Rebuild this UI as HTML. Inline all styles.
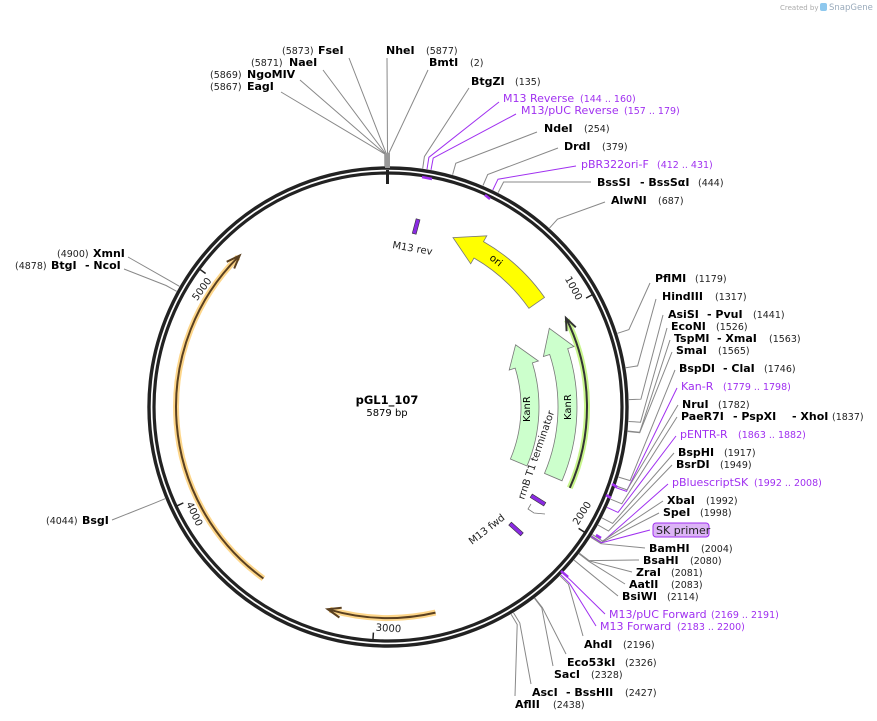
<!DOCTYPE html>
<html><head><meta charset="utf-8">
<style>
html,body{margin:0;padding:0;background:#fff;}
svg{display:block;font-family:"DejaVu Sans","Liberation Sans",sans-serif;}
.e{font-weight:bold;font-size:11px;fill:#000;}
.n{font-size:9.5px;fill:#222;}
.p{font-size:11px;fill:#a030f0;}
.pn{font-size:9.5px;fill:#a030f0;}
</style></head><body>
<svg id="s" width="877" height="721" viewBox="0 0 877 721" xmlns="http://www.w3.org/2000/svg">
<rect width="877" height="721" fill="#fff"/>
<text x="780" y="10" font-size="7" fill="#aaa">Created by</text>
<rect x="820" y="3" width="7" height="8" rx="2" fill="#8ec8ee"/>
<text x="829" y="10" font-size="8.5" fill="#9ab">SnapGene</text>
<g id="lines" fill="none" stroke-width="1"></g>

<!-- ring -->
<circle cx="388" cy="407" r="239" fill="none" stroke="#222" stroke-width="3.4"/>
<circle cx="388" cy="407" r="234" fill="none" stroke="#222" stroke-width="3.2"/>
<line x1="387.5" y1="170" x2="387.5" y2="184" stroke="#222" stroke-width="3"/>
<rect x="385" y="153" width="5" height="15" fill="#999"/>

<!-- ticks -->
<g font-size="10" fill="#222">
<g transform="rotate(61.2 388 407)"><line x1="388" y1="173" x2="388" y2="181" stroke="#222" stroke-width="1.5"/><text x="386" y="184" text-anchor="end" dominant-baseline="hanging">1000</text></g>
<g transform="rotate(-57.5 388 407)"><line x1="388" y1="641" x2="388" y2="633" stroke="#222" stroke-width="1.5"/><text x="390" y="631" text-anchor="start">2000</text></g>
<g transform="rotate(3.7 388 407)"><line x1="388" y1="641" x2="388" y2="633" stroke="#222" stroke-width="1.5"/><text x="390" y="631" text-anchor="start">3000</text></g>
<g transform="rotate(64.9 388 407)"><line x1="388" y1="641" x2="388" y2="633" stroke="#222" stroke-width="1.5"/><text x="390" y="631" text-anchor="start">4000</text></g>
<g transform="rotate(306.2 388 407)"><line x1="388" y1="173" x2="388" y2="181" stroke="#222" stroke-width="1.5"/><text x="386" y="184" text-anchor="end" dominant-baseline="hanging">5000</text></g>
</g>

<!-- features -->
<g id="feat"></g>

<!-- small primer marks -->
<g stroke="#a030f0" stroke-width="2.5" fill="none">
<line x1="422" y1="177" x2="432" y2="179"/>
<line x1="485" y1="195" x2="490" y2="199"/>
<line x1="612" y1="484" x2="617" y2="487"/>
<line x1="606" y1="495" x2="611" y2="498"/>
<line x1="596" y1="535" x2="601" y2="538"/>
<line x1="561" y1="571" x2="568" y2="577"/>
</g>

<!-- small features -->
<g transform="rotate(15 416 227)"><rect x="414" y="219" width="4" height="15" fill="#8a2be2" stroke="#333" stroke-width="0.6"/></g>
<text x="392" y="248" font-size="10" fill="#222" transform="rotate(10 392 248)">M13 rev</text>
<g transform="rotate(-48 516 529)"><rect x="514" y="521" width="4" height="16" fill="#8a2be2" stroke="#333" stroke-width="0.6"/></g>
<text x="472" y="545" font-size="10" fill="#222" transform="rotate(-38 472 545)">M13 fwd</text>
<g transform="rotate(-58 538 500)"><rect x="536" y="492" width="4" height="16" fill="#8a2be2" stroke="#333" stroke-width="0.6"/></g>
<path d="M531 504 L528 509 L534 513 L545 514" fill="none" stroke="#777" stroke-width="0.8"/>
<text x="524" y="500" font-size="10" fill="#222" transform="rotate(-71 524 500)">rrnB T1 terminator</text>

<!-- center -->
<text x="387" y="404" text-anchor="middle" font-size="11.5" font-weight="bold">pGL1_107</text>
<text x="387" y="416" text-anchor="middle" font-size="10">5879 bp</text>

<!-- top labels -->
<text class="n" x="282" y="54">(5873)</text><text class="e" x="318" y="54">FseI</text>
<text class="n" x="251" y="66">(5871)</text><text class="e" x="289" y="66">NaeI</text>
<text class="n" x="210" y="78">(5869)</text><text class="e" x="247" y="78">NgoMIV</text>
<text class="n" x="210" y="90">(5867)</text><text class="e" x="247" y="90">EagI</text>
<text class="e" x="386" y="54">NheI</text><text class="n" x="426" y="54">(5877)</text>
<text class="e" x="429" y="66">BmtI</text><text class="n" x="470" y="66">(2)</text>
<text class="e" x="471" y="85">BtgZI</text><text class="n" x="515" y="85">(135)</text>
<text class="p" x="503" y="102">M13 Reverse</text><text class="pn" x="580" y="102">(144 .. 160)</text>
<text class="p" x="521" y="114">M13/pUC Reverse</text><text class="pn" x="624" y="114">(157 .. 179)</text>
<text class="e" x="544" y="132">NdeI</text><text class="n" x="584" y="132">(254)</text>
<text class="e" x="564" y="150">DrdI</text><text class="n" x="602" y="150">(379)</text>
<text class="p" x="581" y="168">pBR322ori-F</text><text class="pn" x="657" y="168">(412 .. 431)</text>
<text class="e" x="597" y="186">BssSI</text><text class="e" x="640" y="186">- BssSαI</text><text class="n" x="698" y="186">(444)</text>
<text class="e" x="611" y="204">AlwNI</text><text class="n" x="658" y="204">(687)</text>
<!-- right labels -->
<text class="e" x="655" y="282">PflMI</text><text class="n" x="695" y="282">(1179)</text>
<text class="e" x="662" y="300">HindIII</text><text class="n" x="715" y="300">(1317)</text>
<text class="e" x="668" y="318">AsiSI</text><text class="e" x="707" y="318">- PvuI</text><text class="n" x="753" y="318">(1441)</text>
<text class="e" x="671" y="330">EcoNI</text><text class="n" x="716" y="330">(1526)</text>
<text class="e" x="674" y="342">TspMI</text><text class="e" x="717" y="342">- XmaI</text><text class="n" x="769" y="342">(1563)</text>
<text class="e" x="676" y="354">SmaI</text><text class="n" x="718" y="354">(1565)</text>
<text class="e" x="679" y="372">BspDI</text><text class="e" x="723" y="372">- ClaI</text><text class="n" x="764" y="372">(1746)</text>
<text class="p" x="681" y="390">Kan-R</text><text class="pn" x="723" y="390">(1779 .. 1798)</text>
<text class="e" x="682" y="408">NruI</text><text class="n" x="718" y="408">(1782)</text>
<text class="e" x="681" y="420">PaeR7I</text><text class="e" x="733" y="420">- PspXI</text><text class="e" x="792" y="420">- XhoI</text><text class="n" x="832" y="420">(1837)</text>
<text class="p" x="680" y="438">pENTR-R</text><text class="pn" x="738" y="438">(1863 .. 1882)</text>
<text class="e" x="678" y="456">BspHI</text><text class="n" x="724" y="456">(1917)</text>
<text class="e" x="676" y="468">BsrDI</text><text class="n" x="720" y="468">(1949)</text>
<text class="p" x="672" y="486">pBluescriptSK</text><text class="pn" x="754" y="486">(1992 .. 2008)</text>
<text class="e" x="667" y="504">XbaI</text><text class="n" x="706" y="504">(1992)</text>
<text class="e" x="663" y="516">SpeI</text><text class="n" x="700" y="516">(1998)</text>
<rect x="653" y="523" width="56" height="14" rx="3" fill="#dcb4f6" stroke="#a030f0" stroke-width="1"/>
<text x="656" y="534" font-size="11" fill="#222">SK primer</text>
<text class="e" x="649" y="552">BamHI</text><text class="n" x="701" y="552">(2004)</text>
<text class="e" x="643" y="564">BsaHI</text><text class="n" x="690" y="564">(2080)</text>
<text class="e" x="636" y="576">ZraI</text><text class="n" x="671" y="576">(2081)</text>
<text class="e" x="629" y="588">AatII</text><text class="n" x="671" y="588">(2083)</text>
<text class="e" x="622" y="600">BsiWI</text><text class="n" x="667" y="600">(2114)</text>
<text class="p" x="609" y="618">M13/pUC Forward</text><text class="pn" x="711" y="618">(2169 .. 2191)</text>
<text class="p" x="600" y="630">M13 Forward</text><text class="pn" x="677" y="630">(2183 .. 2200)</text>
<text class="e" x="584" y="648">AhdI</text><text class="n" x="623" y="648">(2196)</text>
<text class="e" x="567" y="666">Eco53kI</text><text class="n" x="625" y="666">(2326)</text>
<text class="e" x="554" y="678">SacI</text><text class="n" x="591" y="678">(2328)</text>
<text class="e" x="532" y="696">AscI</text><text class="e" x="566" y="696">- BssHII</text><text class="n" x="625" y="696">(2427)</text>
<text class="e" x="515" y="708">AflII</text><text class="n" x="553" y="708">(2438)</text>
<!-- left labels -->
<text class="n" x="57" y="257">(4900)</text><text class="e" x="93" y="257">XmnI</text>
<text class="n" x="15" y="269">(4878)</text><text class="e" x="51" y="269">BtgI</text><text class="e" x="85" y="269">- NcoI</text>
<text class="n" x="46" y="524">(4044)</text><text class="e" x="82" y="524">BsgI</text>

<script>
(function(){
var NS="http://www.w3.org/2000/svg",cx=388,cy=407,L=5879;
function pt(pos,r){var a=pos/L*2*Math.PI;return [cx+r*Math.sin(a),cy-r*Math.cos(a)];}
var g=document.getElementById('lines');
function add(sx,sy,pos,col){
 var a=pt(pos,253),b=pt(pos,241);
 var p=document.createElementNS(NS,'polyline');
 p.setAttribute('points',sx+','+sy+' '+a[0].toFixed(1)+','+a[1].toFixed(1)+' '+b[0].toFixed(1)+','+b[1].toFixed(1));
 p.setAttribute('stroke',col||'#888');g.appendChild(p);}
var P='#a030f0';
[[349,58,5873],[323,70,5871],[300,80,5869],[281,92,5867],[387,58,5877],[428,70,2],
[469,88,135],[499,102,152,P],[516,114,168,P],[537,132,254],[558,148,379],[576,166,421,P],[591,182,444],[605,202,687],
[650,283,1179],[656,299,1317],[663,315,1441],[667,328,1526],[670,340,1563],[672,352,1565],[675,370,1746],[677,388,1788,P],
[678,405,1782],[677,417,1837],[676,436,1872,P],[674,453,1917],[672,465,1949],[668,484,2000,P],[663,501,1992],[659,513,1998],
[650,530,2000,P],[645,548,2004],[639,560,2080],[632,572,2081],[625,584,2083],[618,596,2114],[605,614,2180,P],[596,626,2191,P],
[583,636,2196],[566,654,2326],[553,666,2328],[531,684,2427],[515,696,2438],
[128,257,4900],[124,269,4878],[112,520,4044]].forEach(function(d){add(d[0],d[1],d[2],d[3]);});
var f=document.getElementById('feat');
function P2(p){return p[0].toFixed(1)+','+p[1].toFixed(1);}
function band(r1,r2,aTail,aTip,head,fill,stroke){
 var dir=aTip>aTail?1:-1,aB=aTip-dir*head;
 var rm=(r1+r2)/2,w=(r2-r1);
 var A=pt(aTail/360*L,r2),B=pt(aB/360*L,r2),C=pt(aB/360*L,r2+w*0.35),T=pt(aTip/360*L,rm),D=pt(aB/360*L,r1-w*0.35),E=pt(aB/360*L,r1),F=pt(aTail/360*L,r1);
 var sw=dir>0?1:0,large=Math.abs(aB-aTail)>180?1:0;
 var d='M'+P2(A)+' A'+r2+','+r2+' 0 '+large+','+sw+' '+P2(B)+' L'+P2(C)+' L'+P2(T)+' L'+P2(D)+' L'+P2(E)+' A'+r1+','+r1+' 0 '+large+','+(1-sw)+' '+P2(F)+' Z';
 var p=document.createElementNS(NS,'path');p.setAttribute('d',d);p.setAttribute('fill',fill);p.setAttribute('stroke',stroke);p.setAttribute('stroke-width','0.8');f.appendChild(p);
}
function line(r,aTail,aTip,col,glow){
 var dir=aTip>aTail?1:-1,sw=dir>0?1:0,large=Math.abs(aTip-aTail)>180?1:0;
 var A=pt(aTail/360*L,r),B=pt(aTip/360*L,r);
 var d='M'+P2(A)+' A'+r+','+r+' 0 '+large+','+sw+' '+P2(B);
 [[glow,6],[col,2]].forEach(function(s){var p=document.createElementNS(NS,'path');p.setAttribute('d',d);p.setAttribute('fill','none');p.setAttribute('stroke',s[0]);p.setAttribute('stroke-width',s[1]);f.appendChild(p);});
 var h1=pt((aTip-dir*3)/360*L,r+5),h2=pt((aTip-dir*3)/360*L,r-5),h3=pt((aTip+dir*0.6)/360*L,r);
 var p=document.createElementNS(NS,'path');p.setAttribute('d','M'+P2(h1)+' L'+P2(h3)+' L'+P2(h2));p.setAttribute('fill','none');p.setAttribute('stroke',col);p.setAttribute('stroke-width','2');f.appendChild(p);
}
band(172,191,55,21,9,'#ffff00','#777');
band(170,189,113,64,8,'#ccffcc','#777');
band(133,151,113,64,9,'#ccffcc','#777');
line(199,114,64,'#333','#c8f58c');
line(212,216,315,'#5a4020','#fdd68a');
line(211,167,196,'#5a4020','#fdd68a');
})();
</script>
<text font-size="10" text-anchor="middle" transform="translate(494 263) rotate(38)">ori</text>
<text font-size="10" transform="translate(530 422) rotate(-90)">KanR</text>
<text font-size="10" transform="translate(571 420) rotate(-90)">KanR</text>
</svg>
</body></html>
